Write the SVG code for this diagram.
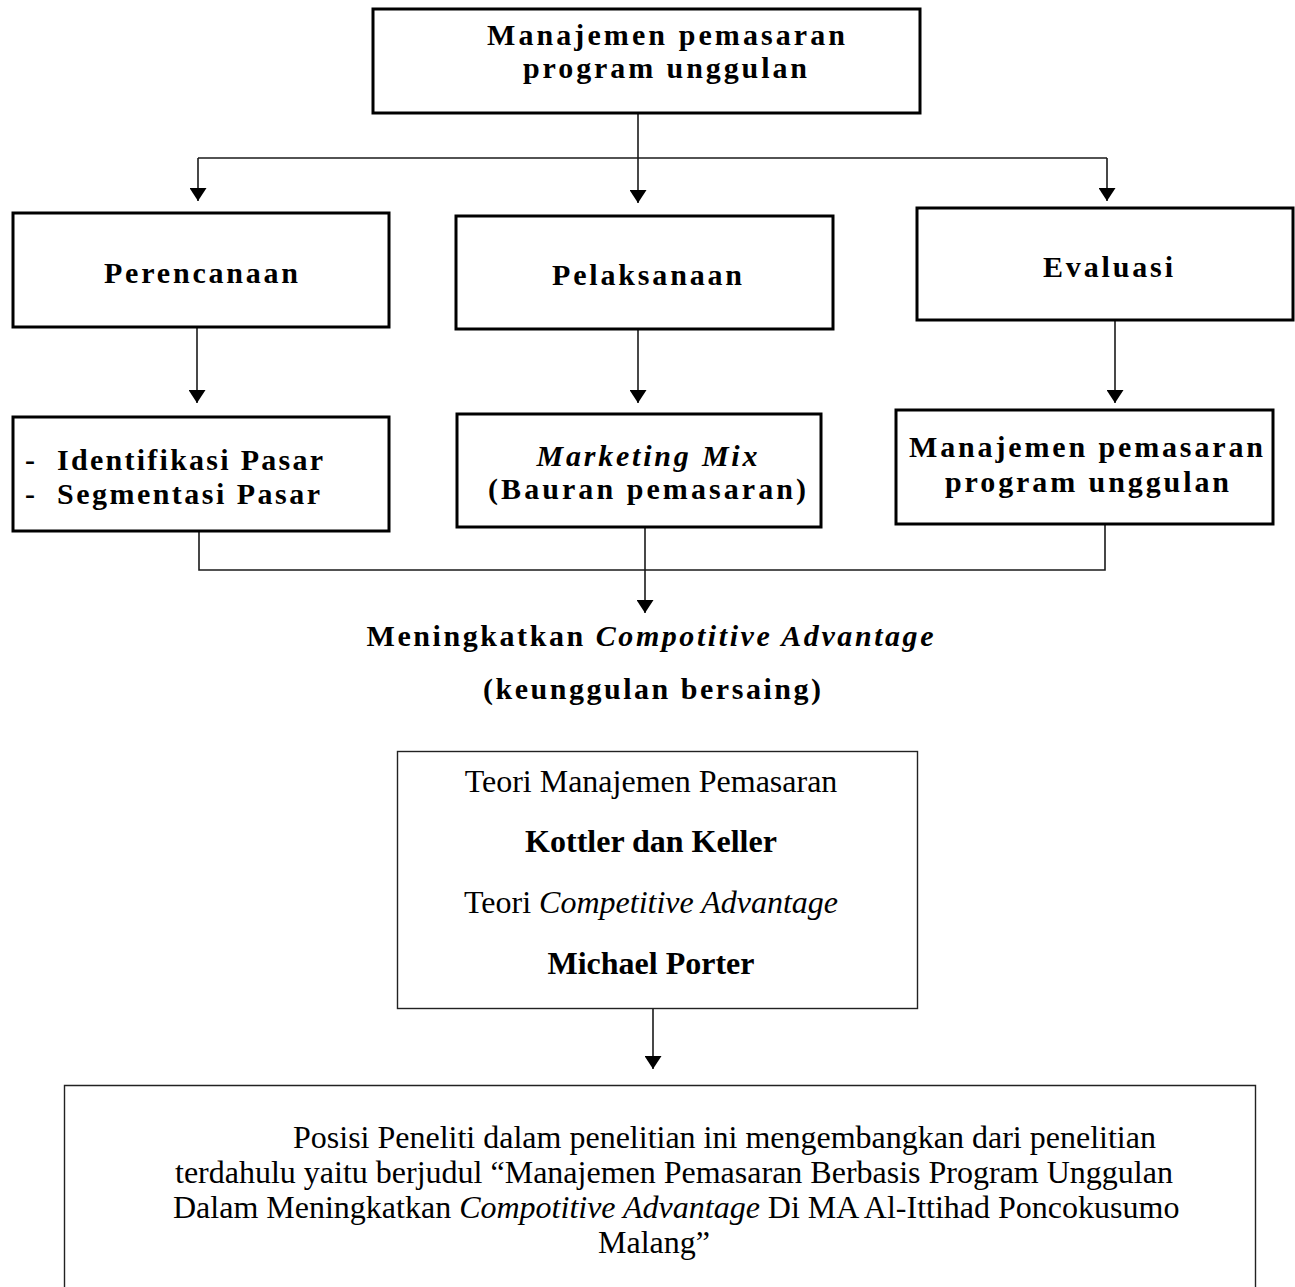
<svg xmlns="http://www.w3.org/2000/svg" width="1295" height="1287" viewBox="0 0 1295 1287">
<style>
  .box { fill: #fff; stroke: #000; stroke-width: 3; }
  .thin { fill: #fff; stroke: #222; stroke-width: 1.4; }
  .wire { fill: none; stroke: #1a1a1a; stroke-width: 1.6; }
  .bw { font-family: "Liberation Serif", "Times New Roman", serif; font-weight: bold; font-size: 30px; fill: #000; }
  .rg { font-family: "Liberation Serif", "Times New Roman", serif; font-size: 32px; fill: #000; }
  .rb { font-family: "Liberation Serif", "Times New Roman", serif; font-size: 32px; font-weight: bold; fill: #000; }
  .it { font-style: italic; }
</style>
<defs>
  <marker id="arr" viewBox="0 0 13 17" refX="13" refY="8.5" markerWidth="13" markerHeight="17" markerUnits="userSpaceOnUse" orient="auto">
    <path d="M0,0 L13,8.5 L0,17 z" fill="#000"/>
  </marker>
</defs>
<rect width="1295" height="1287" fill="#fff"/>

<g id="connectors">
  <path class="wire" d="M638,114 V203" marker-end="url(#arr)"/>
  <path class="wire" d="M198,158 H1107"/>
  <path class="wire" d="M198,158 V201" marker-end="url(#arr)"/>
  <path class="wire" d="M1107,158 V201" marker-end="url(#arr)"/>
  <path class="wire" d="M197,327 V403" marker-end="url(#arr)"/>
  <path class="wire" d="M638,330 V403" marker-end="url(#arr)"/>
  <path class="wire" d="M1115,321 V403" marker-end="url(#arr)"/>
  <path class="wire" d="M199,532 V570 H1105 V524"/>
  <path class="wire" d="M645,527 V613" marker-end="url(#arr)"/>
  <path class="wire" d="M653,1009 V1069" marker-end="url(#arr)"/>
</g>

<g id="top">
  <rect class="box" x="373" y="9" width="547" height="104"/>
  <text class="bw" x="666" y="45" text-anchor="middle" textLength="358" lengthAdjust="spacing">Manajemen pemasaran</text>
  <text class="bw" x="665" y="78" text-anchor="middle" textLength="284" lengthAdjust="spacing">program unggulan</text>
</g>

<g id="perencanaan">
  <rect class="box" x="13" y="213" width="376" height="114"/>
  <text class="bw" x="201" y="283" text-anchor="middle" textLength="194" lengthAdjust="spacing">Perencanaan</text>
</g>

<g id="pelaksanaan">
  <rect class="box" x="456" y="216" width="377" height="113"/>
  <text class="bw" x="647" y="285" text-anchor="middle" textLength="190" lengthAdjust="spacing">Pelaksanaan</text>
</g>

<g id="evaluasi">
  <rect class="box" x="917" y="208" width="376" height="112"/>
  <text class="bw" x="1108" y="277" text-anchor="middle" textLength="130" lengthAdjust="spacing">Evaluasi</text>
</g>

<g id="pasar">
  <rect class="box" x="13" y="417" width="376" height="114"/>
  <text class="bw" x="25" y="470">-</text>
  <text class="bw" x="57" y="470" textLength="266" lengthAdjust="spacing">Identifikasi Pasar</text>
  <text class="bw" x="25" y="504">-</text>
  <text class="bw" x="57" y="504" textLength="263" lengthAdjust="spacing">Segmentasi Pasar</text>
</g>

<g id="marketing-mix">
  <rect class="box" x="457" y="414" width="364" height="113"/>
  <text class="bw it" x="647" y="466" text-anchor="middle" textLength="221" lengthAdjust="spacing">Marketing Mix</text>
  <text class="bw" x="647" y="499" text-anchor="middle" textLength="318" lengthAdjust="spacing">(Bauran pemasaran)</text>
</g>

<g id="manajemen-right">
  <rect class="box" x="896" y="410" width="377" height="114"/>
  <text class="bw" x="1086" y="457" text-anchor="middle" textLength="354" lengthAdjust="spacing">Manajemen pemasaran</text>
  <text class="bw" x="1087" y="492" text-anchor="middle" textLength="284" lengthAdjust="spacing">program unggulan</text>
</g>

<g id="result">
  <text class="bw" x="650" y="646" text-anchor="middle" textLength="567" lengthAdjust="spacing">Meningkatkan <tspan class="it">Compotitive Advantage</tspan></text>
  <text class="bw" x="652" y="699" text-anchor="middle" textLength="338" lengthAdjust="spacing">(keunggulan bersaing)</text>
</g>

<g id="teori">
  <rect class="thin" x="397.5" y="751.5" width="520" height="257"/>
  <text class="rg" x="651" y="792" text-anchor="middle">Teori Manajemen Pemasaran</text>
  <text class="rb" x="651" y="852" text-anchor="middle">Kottler dan Keller</text>
  <text class="rg" x="651" y="913" text-anchor="middle">Teori <tspan class="it">Competitive Advantage</tspan></text>
  <text class="rb" x="651" y="974" text-anchor="middle">Michael Porter</text>
</g>

<g id="posisi">
  <path class="thin" d="M64.5,1300 V1085.5 H1255.5 V1300"/>
  <text class="rg" x="293" y="1148">Posisi Peneliti dalam penelitian ini mengembangkan dari penelitian</text>
  <text class="rg" x="175" y="1183">terdahulu yaitu berjudul “Manajemen Pemasaran Berbasis Program Unggulan</text>
  <text class="rg" x="173" y="1218">Dalam Meningkatkan <tspan class="it">Compotitive Advantage</tspan> Di MA Al-Ittihad Poncokusumo</text>
  <text class="rg" x="654" y="1253" text-anchor="middle">Malang”</text>
</g>
</svg>
